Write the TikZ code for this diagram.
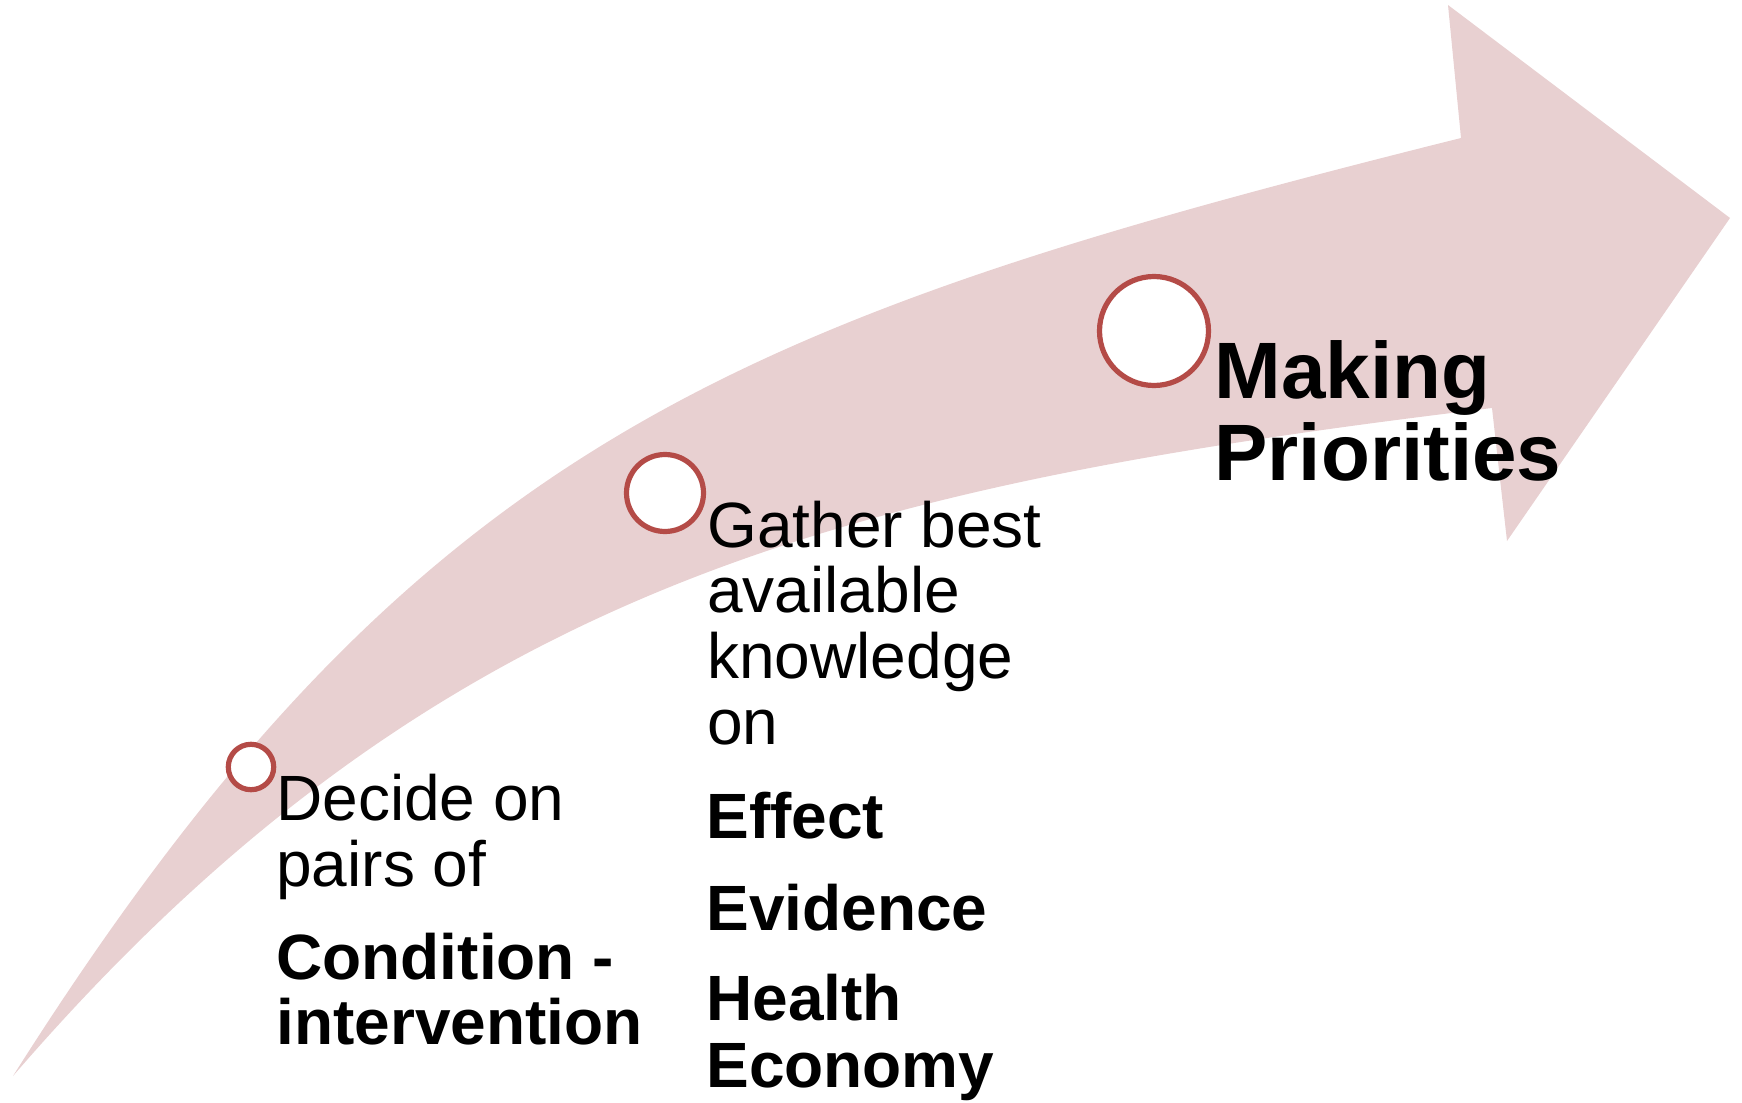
\documentclass[tikz,border=0pt]{standalone}
\usepackage{fontspec}
\setmainfont{Liberation Sans}

\definecolor{rose}{RGB}{232,208,209}
\definecolor{brique}{RGB}{180,75,71}

\tikzset{
	rond/.style={circle, draw=brique, fill=white, line width=2.6pt, inner sep=0pt},
	texte/.style={anchor=base west, inner sep=0pt, font=\fontsize{32}{34}\selectfont},
	gras/.style={texte, font=\fontsize{32}{34}\selectfont\bfseries},
	titre/.style={texte, font=\fontsize{40}{42}\selectfont\bfseries}
}

\begin{document}
\begin{tikzpicture}[x=0.5pt, y=-0.5pt]

	\useasboundingbox (0, 0) rectangle (1742, 1103);

	% La fleche courbe
	\fill[rose] (13, 1076) .. controls (414, 442) and (734, 320) .. (1461, 138)
		-- (1448, 5) -- (1730, 218) -- (1507, 541) -- (1492, 408)
		.. controls (848, 486) and (438, 584) .. (13, 1076)
		-- cycle;

	% Les etapes
	\node[rond, minimum size=22.7pt] (c1) at (251, 767) {};
	\node[rond, minimum size=38.5pt] (c2) at (665, 493) {};
	\node[rond, minimum size=54.5pt] (c3) at (1154, 331) {};

	% Etape 1
	\foreach \i/\y/\t in {1/820/Decide on, 2/886/pairs of}
		\node[texte] (a\i) at (276, \y) {\t};
	\foreach \i/\y/\t in {1/979/Condition -, 2/1044/intervention}
		\node[gras] (b\i) at (276, \y) {\t};

	% Etape 2
	\foreach \i/\y/\t in {1/547/Gather best, 2/612/available, 3/678/knowledge, 4/744/on}
		\node[texte] (d\i) at (707, \y) {\t};
	\foreach \i/\y/\t in {1/838/Effect, 2/930/Evidence, 3/1020/Health, 4/1087/Economy}
		\node[gras] (e\i) at (706, \y) {\t};

	% Etape 3
	\node[titre] (m1) at (1214, 398) {Making};
	\node[titre] (m2) at (1214, 480) {Priorities};

\end{tikzpicture}
\end{document}
